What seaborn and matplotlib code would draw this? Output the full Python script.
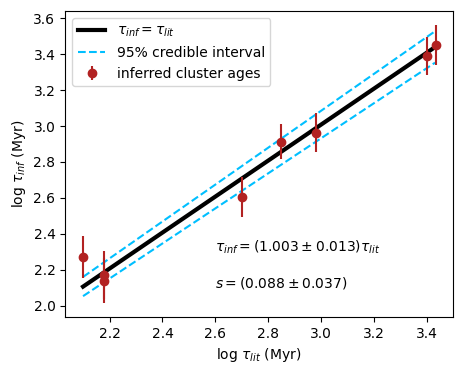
import numpy as np
import pandas as pd
import matplotlib
matplotlib.use("Agg")
import matplotlib.pyplot as plt
import seaborn as sns

# 读取的数据点 (log 年龄)
log_lit = [2.099, 2.178, 2.178, 2.701, 2.848, 2.980, 3.400, 3.432]
log_inf = [2.269, 2.170, 2.140, 2.605, 2.914, 2.964, 3.390, 3.451]
log_err = [0.117, 0.135, 0.125, 0.110, 0.100, 0.107, 0.105, 0.113]

# 拟合线与95%区间的端点
line_x = [2.10, 3.43]
fit_y = [2.106, 3.440]
upper_y = [2.160, 3.528]
lower_y = [2.053, 3.353]

fit_text = r"$\tau_{inf} = (1.003 \pm 0.013)\tau_{lit}$"
s_text = r"$s = (0.088 \pm 0.037)$"

fig, ax = plt.subplots(figsize=(4.62, 3.75), dpi=100)
fig.subplots_adjust(left=0.141, right=0.981, bottom=0.155, top=0.971)

sns.lineplot(x=line_x, y=fit_y, ax=ax, color="black", lw=3,
             label=r"$\tau_{inf} = \tau_{lit}$")
sns.lineplot(x=line_x, y=upper_y, ax=ax, color="deepskyblue", lw=1.5,
             linestyle="--", label="95% credible interval")
sns.lineplot(x=line_x, y=lower_y, ax=ax, color="deepskyblue", lw=1.5,
             linestyle="--")
ax.errorbar(log_lit, log_inf, yerr=log_err, fmt="o", color="firebrick",
            ms=6, elinewidth=1.5, label="inferred cluster ages")

ax.text(2.6, 2.3, fit_text, fontsize=10)
ax.text(2.6, 2.1, s_text, fontsize=10)

ax.set_xlabel(r"log $\tau_{lit}$ (Myr)")
ax.set_ylabel(r"log $\tau_{inf}$ (Myr)")
ax.legend(loc="upper left")

plt.savefig("out.png", dpi=100)
